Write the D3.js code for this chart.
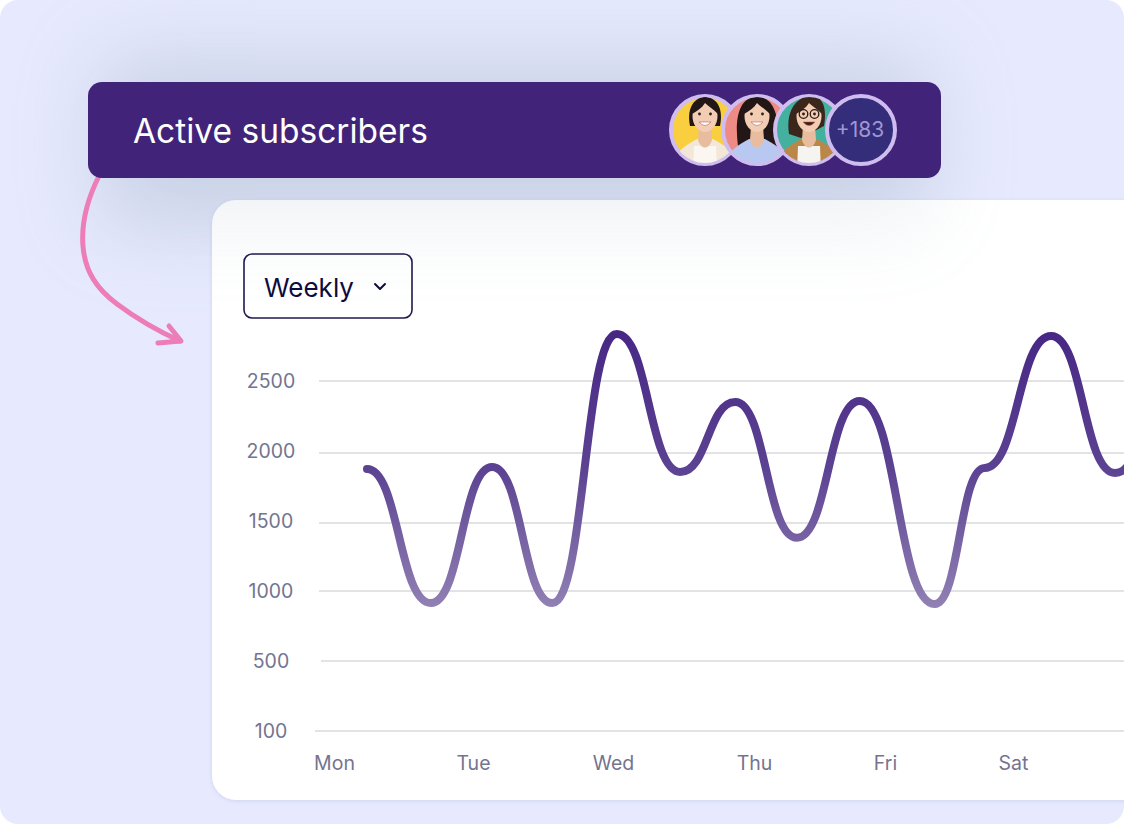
<!DOCTYPE html>
<html>
<head>
<meta charset="utf-8">
<script src="https://cdn.jsdelivr.net/npm/d3@7"></script>
<style>
  html, body { margin: 0; padding: 0; background: #fff; }
  svg { display: block; font-family: Inter, "Noto Sans", sans-serif; }
</style>
</head>
<body>
<div id="chart"></div>
<script>
const days = ["Mon", "Tue", "Wed", "Thu", "Fri", "Sat"];
const dayIndex = [0, 1, 2, 3, 4, 5, 6];
const yTicks = [100, 500, 1000, 1500, 2000, 2500];
const gridStart = [315, 321, 319, 319, 319, 319];

// position along the week, subscribers
const pointDay = [0.23, 0.69, 1.13, 1.56, 2.02, 2.47, 2.86, 3.32, 3.80, 4.38, 4.77, 5.29, 5.79, 6.0];
const subscribers = [1871, 914, 1886, 914, 2836, 1850, 2350, 1380, 2357, 907, 1879, 2821, 1843, 1960];

const width = 1124, height = 824;

const svg = d3.select("#chart").append("svg")
  .attr("width", width)
  .attr("height", height)
  .attr("viewBox", [0, 0, width, height]);

const defs = svg.append("defs");

const blur = defs.append("filter").attr("id", "blur")
  .attr("x", "-30%").attr("y", "-150%").attr("width", "160%").attr("height", "400%");
blur.append("feGaussianBlur").attr("stdDeviation", 42);

const soft = defs.append("filter").attr("id", "soft");
soft.append("feGaussianBlur").attr("stdDeviation", 0.6);

const cardShadow = defs.append("filter").attr("id", "cardShadow")
  .attr("x", "-5%").attr("y", "-5%").attr("width", "110%").attr("height", "110%");
cardShadow.append("feDropShadow")
  .attr("dx", 0).attr("dy", 1).attr("stdDeviation", 2)
  .attr("flood-color", "#aab0d8").attr("flood-opacity", 0.4);

const lineGrad = defs.append("linearGradient").attr("id", "lineGrad")
  .attr("gradientUnits", "userSpaceOnUse")
  .attr("x1", 0).attr("x2", 0).attr("y1", 330).attr("y2", 606);
lineGrad.append("stop").attr("offset", 0).attr("stop-color", "#472784");
lineGrad.append("stop").attr("offset", 0.5).attr("stop-color", "#5c4292");
lineGrad.append("stop").attr("offset", 1).attr("stop-color", "#9080b3");

defs.append("clipPath").attr("id", "panelClip")
  .append("rect").attr("width", width).attr("height", height).attr("rx", 18);
defs.append("clipPath").attr("id", "cardClip")
  .append("rect").attr("x", 212).attr("y", 200).attr("width", 1000).attr("height", 600).attr("rx", 24);

function headerShadow(parent, opacity) {
  parent.append("rect")
    .attr("x", 100).attr("y", 60)
    .attr("width", 830).attr("height", 165)
    .attr("rx", 14)
    .attr("fill", "#8fa3b8")
    .attr("opacity", opacity)
    .attr("filter", "url(#blur)");
}

// background panel
svg.append("rect")
  .attr("width", width).attr("height", height)
  .attr("rx", 18)
  .attr("fill", "#e7eafe");

// shadow of the header, strong on the panel and faint on the card
headerShadow(svg.append("g").attr("clip-path", "url(#panelClip)"), 0.34);

// card
svg.append("rect")
  .attr("x", 212).attr("y", 200)
  .attr("width", 1000).attr("height", 600)
  .attr("rx", 24)
  .attr("fill", "#fff")
  .attr("filter", "url(#cardShadow)");

headerShadow(svg.append("g").attr("clip-path", "url(#cardClip)"), 0.15);

// arrow
const arrow = svg.append("g")
  .attr("fill", "none")
  .attr("stroke", "#ec7db8")
  .attr("stroke-width", 5)
  .attr("stroke-linecap", "round")
  .attr("stroke-linejoin", "round");
arrow.append("path").attr("d", "M99,176 C88,198 81,222 83,246 C85,272 97,289 117,304 C137,319 158,331 180,341");
arrow.append("path").attr("d", "M169,326 L181,341 L158,343");

// header
svg.append("rect")
  .attr("x", 88).attr("y", 82)
  .attr("width", 853).attr("height", 96)
  .attr("rx", 14)
  .attr("fill", "#42237a");

svg.append("text")
  .attr("x", 133).attr("y", 143)
  .attr("font-size", 33.5)
  .attr("fill", "#fff")
  .text("Active subscribers");

// avatars
const avatarCx = [705, 757, 809];
const avatarBg = ["#f9cf3f", "#ee8b84", "#43b0a0"];
const avatarHair = ["#221714", "#241612", "#3a261c"];
const avatarTop = ["#f3e8d8", "#b9c8f0", "#bb8748"];
const avatarShirt = ["#fbf7f0", "#b9c8f0", "#f6f4f0"];

avatarCx.forEach((cx, i) => {
  defs.append("clipPath").attr("id", "av" + i)
    .append("circle").attr("cx", cx).attr("cy", 130).attr("r", 33);

  svg.append("circle").attr("cx", cx).attr("cy", 130).attr("r", 34)
    .attr("fill", avatarBg[i])
    .attr("stroke", "#cfbdef").attr("stroke-width", 4);

  const p = svg.append("g").attr("clip-path", `url(#av${i})`)
    .append("g").attr("filter", "url(#soft)");

  // hair behind the face
  const hair = [
    `M${cx - 15},126 C${cx - 19},106 ${cx - 9},97 ${cx},97 C${cx + 10},97 ${cx + 19},106 ${cx + 15},126 Z`,
    `M${cx - 17},158 C${cx - 23},128 ${cx - 22},97 ${cx},97 C${cx + 22},97 ${cx + 20},125 ${cx + 26},152 L${cx + 10},156 Z`,
    `M${cx - 20},134 C${cx - 24},108 ${cx - 10},96 ${cx + 2},96 C${cx + 14},96 ${cx + 18},108 ${cx + 15},126 L${cx - 8},138 Z`
  ][i];
  p.append("path").attr("fill", avatarHair[i]).attr("d", hair);

  // jacket, shirt
  p.append("path").attr("fill", avatarTop[i])
    .attr("d", `M${cx - 35},172 C${cx - 32},152 ${cx - 20},146 ${cx - 8},139 L${cx + 8},139 C${cx + 20},146 ${cx + 32},152 ${cx + 35},172 Z`);
  p.append("path").attr("fill", avatarShirt[i])
    .attr("d", `M${cx - 11},146 L${cx + 11},146 L${cx + 12},172 L${cx - 12},172 Z`);

  // neck and face
  p.append("path").attr("fill", "#e8bd9f")
    .attr("d", `M${cx - 6},126 L${cx + 6},126 L${cx + 7},140 C${cx + 4},150 ${cx - 4},150 ${cx - 7},140 Z`);
  p.append("ellipse").attr("cx", cx).attr("cy", 116).attr("rx", 12.5).attr("ry", 16)
    .attr("fill", "#f2cdb3");

  // fringe
  p.append("path").attr("fill", avatarHair[i])
    .attr("d", `M${cx - 13},114 C${cx - 13},102 ${cx - 5},99 ${cx + 1},99 C${cx + 9},99 ${cx + 13},105 ${cx + 13},114 C${cx + 8},109 ${cx + 3},106 ${cx},103 C${cx - 3},108 ${cx - 8},111 ${cx - 13},114 Z`);

  // eyes and mouth
  p.append("circle").attr("cx", cx - 5.5).attr("cy", 114).attr("r", 1.4).attr("fill", "#2a1a14");
  p.append("circle").attr("cx", cx + 5.5).attr("cy", 114).attr("r", 1.4).attr("fill", "#2a1a14");
  p.append("path").attr("d", `M${cx - 6},122 Q${cx},129 ${cx + 6},122 Z`)
    .attr("fill", i === 2 ? "#3a1a1a" : "#fff").attr("stroke", "#b5614f").attr("stroke-width", 0.6);
  if (i === 2) {
    const glasses = p.append("g").attr("fill", "none").attr("stroke", "#2a1a14").attr("stroke-width", 1.3);
    glasses.append("circle").attr("cx", cx - 5.5).attr("cy", 114).attr("r", 4.3);
    glasses.append("circle").attr("cx", cx + 5.5).attr("cy", 114).attr("r", 4.3);
  }
});

svg.append("circle")
  .attr("cx", 861).attr("cy", 130).attr("r", 34)
  .attr("fill", "#342d7a")
  .attr("stroke", "#cfbdef").attr("stroke-width", 4);
svg.append("text")
  .attr("x", 860).attr("y", 137)
  .attr("text-anchor", "middle")
  .attr("font-size", 21)
  .attr("fill", "#a096d2")
  .text("+183");

// dropdown
svg.append("rect")
  .attr("x", 244).attr("y", 254)
  .attr("width", 168).attr("height", 64)
  .attr("rx", 8)
  .attr("fill", "none")
  .attr("stroke", "#1f1a4d")
  .attr("stroke-width", 1.6);
svg.append("text")
  .attr("x", 264).attr("y", 297)
  .attr("font-size", 26)
  .attr("fill", "#0e0b3d")
  .text("Weekly");
svg.append("path")
  .attr("d", "M375,284 L380,289 L385,284")
  .attr("fill", "none")
  .attr("stroke", "#0e0b3d")
  .attr("stroke-width", 2)
  .attr("stroke-linecap", "round")
  .attr("stroke-linejoin", "round");

// scales: the axis is evenly spaced per tick, even from 100 to 500
const y = d3.scaleLinear()
  .domain(yTicks)
  .range([731, 661, 591, 521, 451, 381]);

// the grid sits a little off the labels at 1500 and 2000
const gridY = d3.scaleOrdinal()
  .domain(yTicks)
  .range([731, 661, 591, 523, 453, 381]);

const x = d3.scaleLinear()
  .domain(dayIndex)
  .range([335, 474, 614, 755, 886, 1014, 1142]);

svg.append("g").selectAll("line")
  .data(yTicks)
  .join("line")
  .attr("x1", (d, i) => gridStart[i])
  .attr("x2", width)
  .attr("y1", d => gridY(d))
  .attr("y2", d => gridY(d))
  .attr("stroke", "#e3e3e6")
  .attr("stroke-width", 2);

const yAxis = svg.append("g")
  .attr("transform", "translate(271,0)")
  .call(d3.axisLeft(y).tickValues(yTicks).tickFormat(d3.format("d")).tickSize(0).tickPadding(0));
yAxis.select(".domain").remove();
yAxis.selectAll("text")
  .attr("text-anchor", "middle")
  .attr("font-family", "Inter")
  .attr("font-size", 19.5)
  .attr("fill", "#74748f");

const xAxis = svg.append("g")
  .attr("transform", "translate(-1,756)")
  .call(d3.axisBottom(x)
    .tickValues(d3.range(days.length))
    .tickFormat(i => days[i])
    .tickSize(0)
    .tickPadding(0));
xAxis.select(".domain").remove();
xAxis.selectAll("text")
  .attr("font-family", "Inter")
  .attr("font-size", 19.5)
  .attr("fill", "#74748f");

const line = d3.line()
  .x((d, i) => x(pointDay[i]))
  .y(d => y(d))
  .curve(d3.curveBumpX);

svg.append("path")
  .datum(subscribers)
  .attr("d", line)
  .attr("fill", "none")
  .attr("stroke", "url(#lineGrad)")
  .attr("stroke-width", 8)
  .attr("stroke-linecap", "round");
</script>
</body>
</html>
